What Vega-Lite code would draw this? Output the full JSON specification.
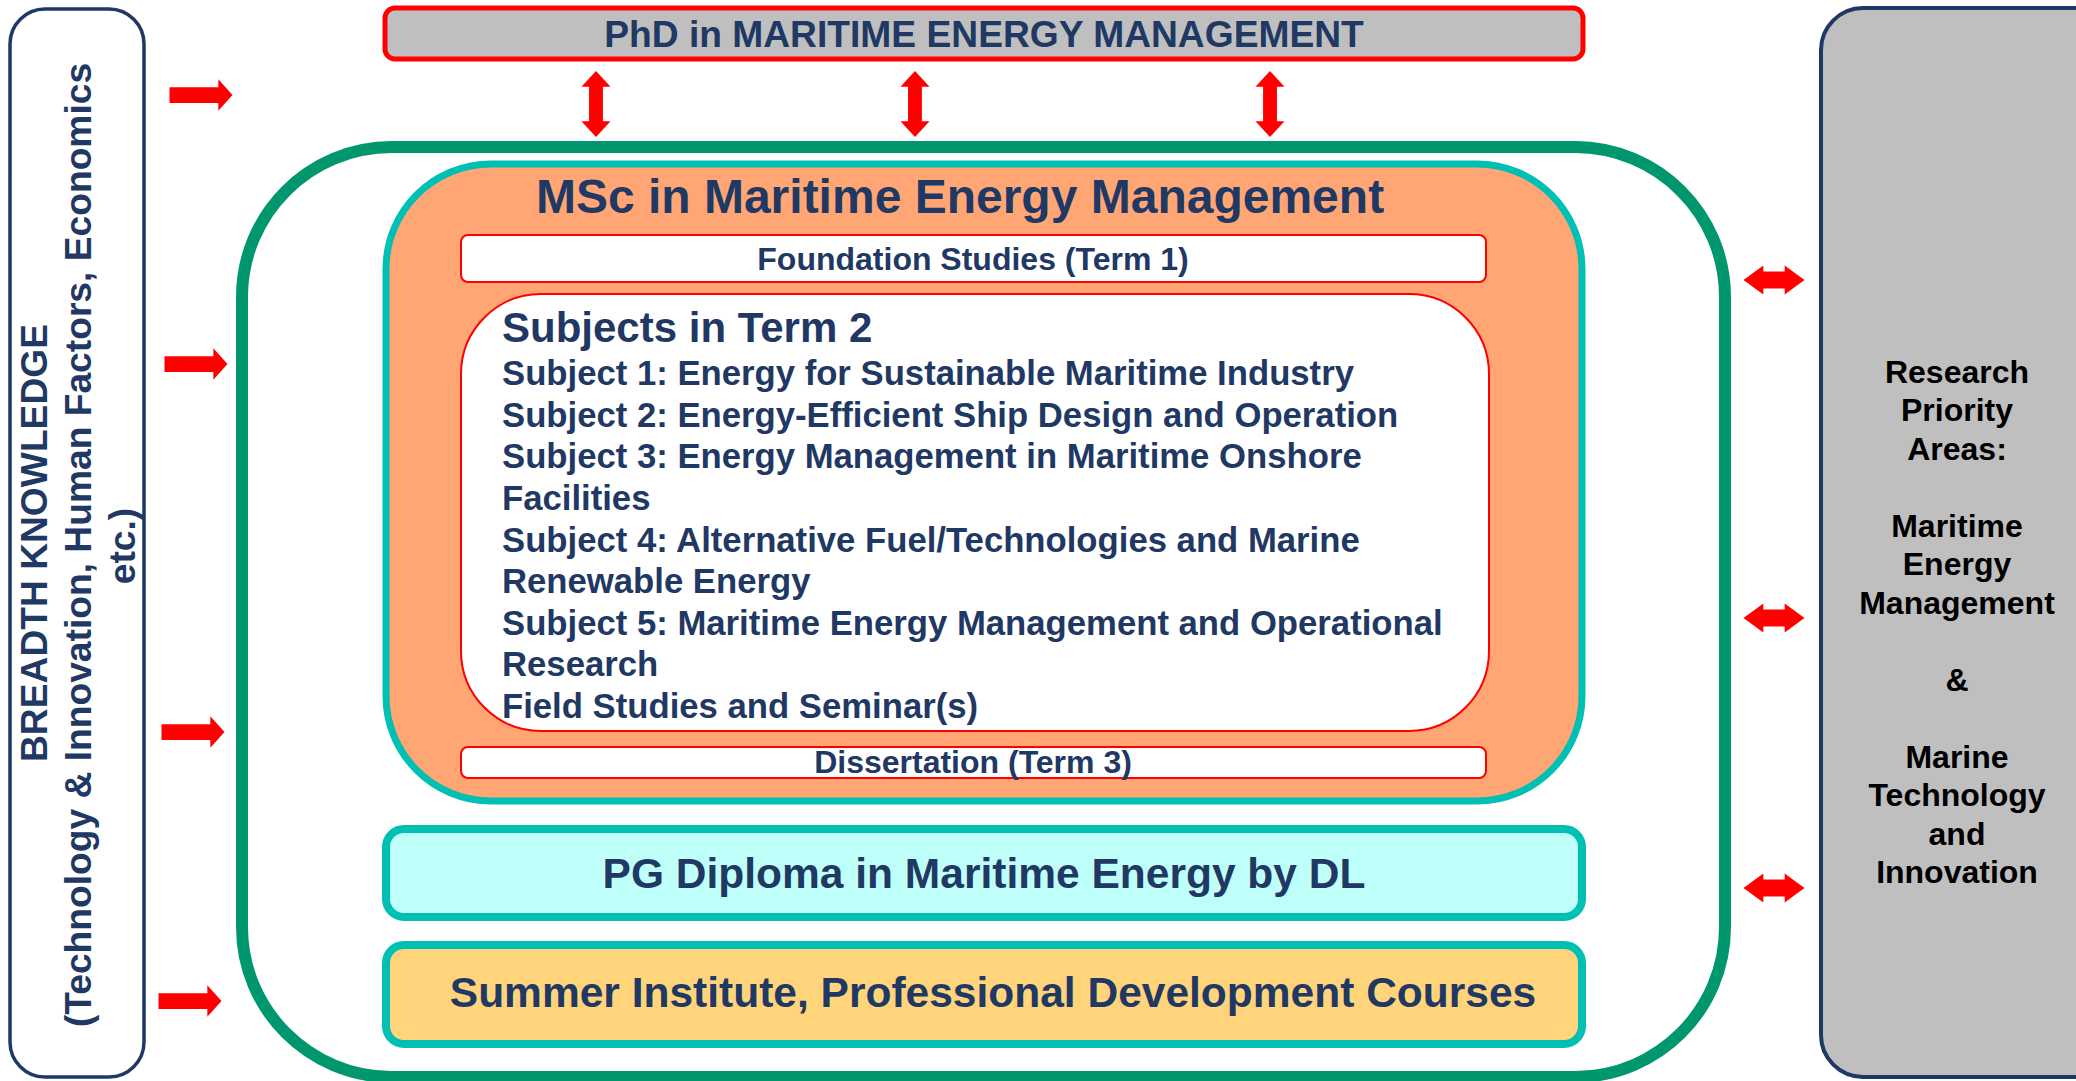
{
  "$schema": "https://vega.github.io/schema/vega-lite/v6.json",
  "width": 2076,
  "height": 1081,
  "padding": 0,
  "autosize": {"type": "none"},
  "background": "white",
  "config": {"view": {"stroke": null}},
  "datasets": {
    "boxes": [
      {"id": "breadth", "x": 10, "x2": 144, "y": 9, "y2": 1077},
      {"id": "research", "x": 1821, "x2": 2130, "y": 8, "y2": 1077},
      {"id": "outer", "x": 242, "x2": 1725, "y": 147, "y2": 1077},
      {"id": "msc", "x": 386, "x2": 1582, "y": 164, "y2": 801},
      {"id": "foundation", "x": 461, "x2": 1486, "y": 235, "y2": 282},
      {"id": "subjects", "x": 461, "x2": 1489, "y": 294, "y2": 731},
      {"id": "dissertation", "x": 461, "x2": 1486, "y": 747, "y2": 778},
      {"id": "pgdip", "x": 386, "x2": 1582, "y": 829, "y2": 917},
      {"id": "summer", "x": 386, "x2": 1582, "y": 945, "y2": 1044},
      {"id": "phd", "x": 385, "x2": 1583, "y": 8, "y2": 59}
    ],
    "arrows": [
      {"kind": "right", "x": 201, "y": 95},
      {"kind": "right", "x": 196, "y": 364},
      {"kind": "right", "x": 193, "y": 732},
      {"kind": "right", "x": 190, "y": 1001},
      {"kind": "vert", "x": 596, "y": 104},
      {"kind": "vert", "x": 915, "y": 104},
      {"kind": "vert", "x": 1270, "y": 104},
      {"kind": "horiz", "x": 1774, "y": 280},
      {"kind": "horiz", "x": 1774, "y": 618},
      {"kind": "horiz", "x": 1774, "y": 888}
    ],
    "labels": [
      {"g": "phd", "text": "PhD in MARITIME ENERGY MANAGEMENT", "x": 984, "y": 47},
      {"g": "msc", "text": "MSc in Maritime Energy Management", "x": 960, "y": 213},
      {"g": "term", "text": "Foundation Studies (Term 1)", "x": 973, "y": 270},
      {"g": "term", "text": "Dissertation (Term 3)", "x": 973, "y": 773},
      {"g": "head", "text": "Subjects in Term 2", "x": 502, "y": 342},
      {"g": "subj", "text": "Subject 1: Energy for Sustainable Maritime Industry", "x": 502, "y": 385},
      {"g": "subj", "text": "Subject 2: Energy-Efficient Ship Design and Operation", "x": 502, "y": 427},
      {"g": "subj", "text": "Subject 3: Energy Management in Maritime Onshore", "x": 502, "y": 468},
      {"g": "subj", "text": "Facilities", "x": 502, "y": 510},
      {"g": "subj", "text": "Subject 4: Alternative Fuel/Technologies and Marine", "x": 502, "y": 552},
      {"g": "subj", "text": "Renewable Energy", "x": 502, "y": 593},
      {"g": "subj", "text": "Subject 5: Maritime Energy Management and Operational", "x": 502, "y": 635},
      {"g": "subj", "text": "Research", "x": 502, "y": 676},
      {"g": "subj", "text": "Field Studies and Seminar(s)", "x": 502, "y": 718},
      {"g": "big", "text": "PG Diploma in Maritime Energy by DL", "x": 984, "y": 888},
      {"g": "big", "text": "Summer Institute, Professional Development Courses", "x": 993, "y": 1007},
      {"g": "right", "text": "Research", "x": 1957, "y": 383},
      {"g": "right", "text": "Priority", "x": 1957, "y": 421},
      {"g": "right", "text": "Areas:", "x": 1957, "y": 460},
      {"g": "right", "text": "Maritime", "x": 1957, "y": 537},
      {"g": "right", "text": "Energy", "x": 1957, "y": 575},
      {"g": "right", "text": "Management", "x": 1957, "y": 614},
      {"g": "right", "text": "&", "x": 1957, "y": 691},
      {"g": "right", "text": "Marine", "x": 1957, "y": 768},
      {"g": "right", "text": "Technology", "x": 1957, "y": 806},
      {"g": "right", "text": "and", "x": 1957, "y": 845},
      {"g": "right", "text": "Innovation", "x": 1957, "y": 883},
      {"g": "left", "text": "BREADTH KNOWLEDGE", "x": 47, "y": 543},
      {"g": "left", "text": "(Technology & Innovation, Human Factors, Economics", "x": 91, "y": 545},
      {"g": "left", "text": "etc.)", "x": 135, "y": 546}
    ]
  },
  "encoding": {
    "x": {"field": "x", "type": "quantitative", "scale": {"domain": [0, 2076], "nice": false, "zero": false}, "axis": null},
    "y": {"field": "y", "type": "quantitative", "scale": {"domain": [0, 1081], "nice": false, "zero": false, "reverse": true}, "axis": null}
  },
  "layer": [
    {
      "data": {"name": "boxes"},
      "transform": [{"filter": "datum.id === 'breadth'"}],
      "mark": {"type": "rect", "fill": "#ffffff", "stroke": "#1f3864", "strokeWidth": 3.5, "cornerRadius": 35},
      "encoding": {"x2": {"field": "x2"}, "y2": {"field": "y2"}}
    },
    {
      "data": {"name": "boxes"},
      "transform": [{"filter": "datum.id === 'research'"}],
      "mark": {"type": "rect", "fill": "#bfbfbf", "stroke": "#1f3864", "strokeWidth": 4, "cornerRadius": 42, "clip": true},
      "encoding": {"x2": {"field": "x2"}, "y2": {"field": "y2"}}
    },
    {
      "data": {"name": "boxes"},
      "transform": [{"filter": "datum.id === 'outer'"}],
      "mark": {"type": "rect", "fill": "#ffffff", "stroke": "#00966e", "strokeWidth": 12, "cornerRadius": 150},
      "encoding": {"x2": {"field": "x2"}, "y2": {"field": "y2"}}
    },
    {
      "data": {"name": "boxes"},
      "transform": [{"filter": "datum.id === 'msc'"}],
      "mark": {"type": "rect", "fill": "#ffa674", "stroke": "#00bfb3", "strokeWidth": 7, "cornerRadius": 105},
      "encoding": {"x2": {"field": "x2"}, "y2": {"field": "y2"}}
    },
    {
      "data": {"name": "boxes"},
      "transform": [{"filter": "datum.id === 'foundation' || datum.id === 'dissertation'"}],
      "mark": {"type": "rect", "fill": "#ffffff", "stroke": "#ff0000", "strokeWidth": 2, "cornerRadius": 7},
      "encoding": {"x2": {"field": "x2"}, "y2": {"field": "y2"}}
    },
    {
      "data": {"name": "boxes"},
      "transform": [{"filter": "datum.id === 'subjects'"}],
      "mark": {"type": "rect", "fill": "#ffffff", "stroke": "#ff0000", "strokeWidth": 2, "cornerRadius": 80},
      "encoding": {"x2": {"field": "x2"}, "y2": {"field": "y2"}}
    },
    {
      "data": {"name": "boxes"},
      "transform": [{"filter": "datum.id === 'pgdip'"}],
      "mark": {"type": "rect", "fill": "#bfFFfa", "stroke": "#00bfb3", "strokeWidth": 8, "cornerRadius": 18},
      "encoding": {"x2": {"field": "x2"}, "y2": {"field": "y2"}}
    },
    {
      "data": {"name": "boxes"},
      "transform": [{"filter": "datum.id === 'summer'"}],
      "mark": {"type": "rect", "fill": "#ffd47a", "stroke": "#00bfb3", "strokeWidth": 8, "cornerRadius": 18},
      "encoding": {"x2": {"field": "x2"}, "y2": {"field": "y2"}}
    },
    {
      "data": {"name": "boxes"},
      "transform": [{"filter": "datum.id === 'phd'"}],
      "mark": {"type": "rect", "fill": "#bfbfbf", "stroke": "#ff0000", "strokeWidth": 5, "cornerRadius": 10},
      "encoding": {"x2": {"field": "x2"}, "y2": {"field": "y2"}}
    },
    {
      "data": {"name": "arrows"},
      "transform": [{"filter": "datum.kind === 'right'"}],
      "mark": {"type": "point", "filled": true, "opacity": 1, "color": "#ff0000", "strokeWidth": 0, "size": 3969,
        "shape": "M -1 -0.25 L 0.55 -0.25 L 0.55 -0.5 L 1 0 L 0.55 0.5 L 0.55 0.25 L -1 0.25 Z"}
    },
    {
      "data": {"name": "arrows"},
      "transform": [{"filter": "datum.kind === 'vert'"}],
      "mark": {"type": "point", "filled": true, "opacity": 1, "color": "#ff0000", "strokeWidth": 0, "size": 4356,
        "shape": "M 0 -1 L 0.44 -0.52 L 0.21 -0.52 L 0.21 0.52 L 0.44 0.52 L 0 1 L -0.44 0.52 L -0.21 0.52 L -0.21 -0.52 L -0.44 -0.52 Z"}
    },
    {
      "data": {"name": "arrows"},
      "transform": [{"filter": "datum.kind === 'horiz'"}],
      "mark": {"type": "point", "filled": true, "opacity": 1, "color": "#ff0000", "strokeWidth": 0, "size": 3721,
        "shape": "M -1 0 L -0.35 -0.475 L -0.35 -0.28 L 0.35 -0.28 L 0.35 -0.475 L 1 0 L 0.35 0.475 L 0.35 0.28 L -0.35 0.28 L -0.35 0.475 Z"}
    },
    {
      "data": {"name": "labels"},
      "transform": [{"filter": "datum.g === 'phd'"}],
      "mark": {"type": "text", "font": "Liberation Sans", "fontWeight": "bold", "fontSize": 37.2, "fill": "#1f3864", "align": "center", "baseline": "alphabetic"},
      "encoding": {"text": {"field": "text"}}
    },
    {
      "data": {"name": "labels"},
      "transform": [{"filter": "datum.g === 'msc'"}],
      "mark": {"type": "text", "font": "Liberation Sans", "fontWeight": "bold", "fontSize": 48, "fill": "#1f3864", "align": "center", "baseline": "alphabetic"},
      "encoding": {"text": {"field": "text"}}
    },
    {
      "data": {"name": "labels"},
      "transform": [{"filter": "datum.g === 'term'"}],
      "mark": {"type": "text", "font": "Liberation Sans", "fontWeight": "bold", "fontSize": 32, "fill": "#1f3864", "align": "center", "baseline": "alphabetic"},
      "encoding": {"text": {"field": "text"}}
    },
    {
      "data": {"name": "labels"},
      "transform": [{"filter": "datum.g === 'head'"}],
      "mark": {"type": "text", "font": "Liberation Sans", "fontWeight": "bold", "fontSize": 42, "fill": "#1f3864", "align": "left", "baseline": "alphabetic"},
      "encoding": {"text": {"field": "text"}}
    },
    {
      "data": {"name": "labels"},
      "transform": [{"filter": "datum.g === 'subj'"}],
      "mark": {"type": "text", "font": "Liberation Sans", "fontWeight": "bold", "fontSize": 34.7, "fill": "#1f3864", "align": "left", "baseline": "alphabetic"},
      "encoding": {"text": {"field": "text"}}
    },
    {
      "data": {"name": "labels"},
      "transform": [{"filter": "datum.g === 'big'"}],
      "mark": {"type": "text", "font": "Liberation Sans", "fontWeight": "bold", "fontSize": 42.5, "fill": "#1f3864", "align": "center", "baseline": "alphabetic"},
      "encoding": {"text": {"field": "text"}}
    },
    {
      "data": {"name": "labels"},
      "transform": [{"filter": "datum.g === 'right'"}],
      "mark": {"type": "text", "font": "Liberation Sans", "fontWeight": "bold", "fontSize": 32, "fill": "#000000", "align": "center", "baseline": "alphabetic"},
      "encoding": {"text": {"field": "text"}}
    },
    {
      "data": {"name": "labels"},
      "transform": [{"filter": "datum.g === 'left'"}],
      "mark": {"type": "text", "font": "Liberation Sans", "fontWeight": "bold", "fontSize": 37.2, "fill": "#1f3864", "align": "center", "baseline": "alphabetic", "angle": 270},
      "encoding": {"text": {"field": "text"}}
    }
  ]
}
